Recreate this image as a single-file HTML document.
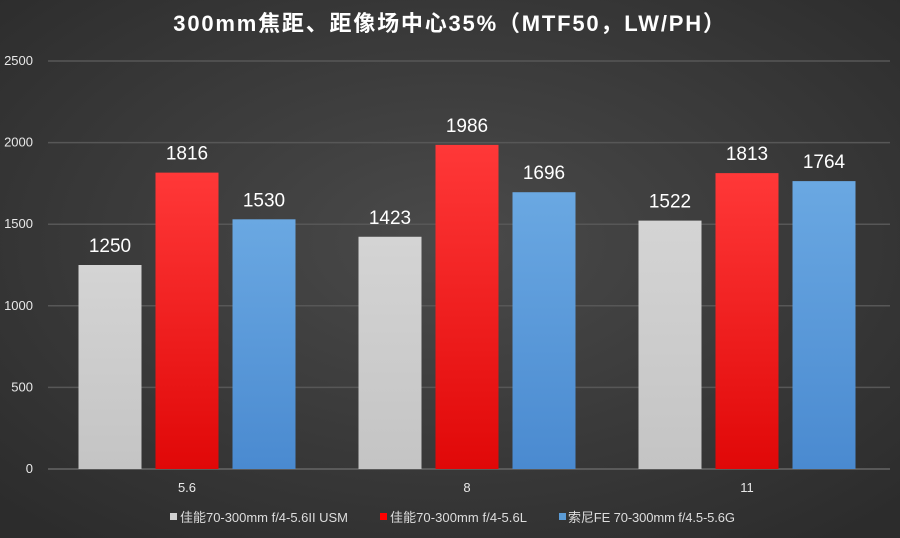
<!DOCTYPE html>
<html><head><meta charset="utf-8"><style>
body{margin:0;width:900px;height:538px;overflow:hidden;background:#333}
svg{display:block}
text{font-family:"Liberation Sans","Noto Sans CJK SC",sans-serif}
</style></head><body>
<svg id="c" width="900" height="538">
<defs>
<radialGradient id="bg" cx="50%" cy="45%" r="70%"><stop offset="0" stop-color="#4a4a4a"/><stop offset="1" stop-color="#2c2c2c"/></radialGradient>
<linearGradient id="gG" x1="0" y1="0" x2="0" y2="1"><stop offset="0" stop-color="#d4d4d4"/><stop offset="1" stop-color="#c4c4c4"/></linearGradient>
<linearGradient id="gR" x1="0" y1="0" x2="0" y2="1"><stop offset="0" stop-color="#ff3838"/><stop offset="1" stop-color="#e00808"/></linearGradient>
<linearGradient id="gB" x1="0" y1="0" x2="0" y2="1"><stop offset="0" stop-color="#6aa8e2"/><stop offset="1" stop-color="#4a8ad0"/></linearGradient>
</defs>
<rect width="900" height="538" fill="url(#bg)"/>
<text x="450" y="31" text-anchor="middle" fill="#fff" font-size="22" font-weight="bold" letter-spacing="1.8">300mm焦距、距像场中心35%（MTF50，LW/PH）</text>
<g id="grid"></g><g id="bars"></g><g id="labels"></g>
<g font-size="13" fill="#ddd">
<rect x="170" y="513" width="7" height="7" fill="#d0d0d0"/>
<text x="180" y="522" fill="#ddd" textLength="168">佳能70-300mm f/4-5.6II USM</text>
<rect x="380" y="513" width="7" height="7" fill="#f00"/>
<text x="390" y="522" fill="#ddd" textLength="137">佳能70-300mm f/4-5.6L</text>
<rect x="559" y="513" width="7" height="7" fill="#5b9bd5"/>
<text x="568" y="522" fill="#ddd" textLength="167">索尼FE 70-300mm f/4.5-5.6G</text>
</g>
</svg>
<script>
const categories=["5.6","8","11"];
const canonUsm=[1250,1423,1522];
const canonL=[1816,1986,1813];
const sony=[1530,1696,1764];
const yTicks=[0,500,1000,1500,2000,2500];
const NS="http://www.w3.org/2000/svg";
const x0=47,x1=887,yBase=469,yTop=61,yMax=2500;
const y=v=>yBase-(yBase-yTop)*v/yMax;
const gw=(x1-x0)/categories.length;
const g=document.getElementById('grid'),b=document.getElementById('bars'),l=document.getElementById('labels');
function mk(tag,attrs,parent,txt){const e=document.createElementNS(NS,tag);for(const k in attrs)e.setAttribute(k,attrs[k]);if(txt!==undefined)e.textContent=txt;parent.appendChild(e);return e;}
yTicks.forEach(t=>{
 const ln=mk('line',{x1:48,x2:890,y1:y(t),y2:y(t),stroke:t===0?'#666':'#575757','stroke-width':1.5},g);
 
 
 const tx=mk('text',{x:33,y:y(t)+4,'text-anchor':'end',fill:'#e8e8e8','font-size':13},g,String(t));
 
 
});
const series=[[canonUsm,'url(#gG)','canon-usm'],[canonL,'url(#gR)','canon-l'],[sony,'url(#gB)','sony']];
const bw=63,gap=14;
categories.forEach((c,i)=>{
 const cx=x0+gw*(i+0.5);
 const start=cx-(3*bw+2*gap)/2;
 series.forEach((s,j)=>{
  const v=s[0][i],bx=start+j*(bw+gap);
  const r=mk('rect',{x:bx,y:y(v),width:bw,height:yBase-y(v),fill:s[1]},b);
  
  
  const t=mk('text',{x:bx+bw/2,y:y(v)-13,'text-anchor':'middle',fill:'#fff','font-size':19},l,String(v));
  
  
 });
 const xt=mk('text',{x:cx,y:492,'text-anchor':'middle',fill:'#e8e8e8','font-size':13},l,c);
 
 
});
</script>
</body></html>
